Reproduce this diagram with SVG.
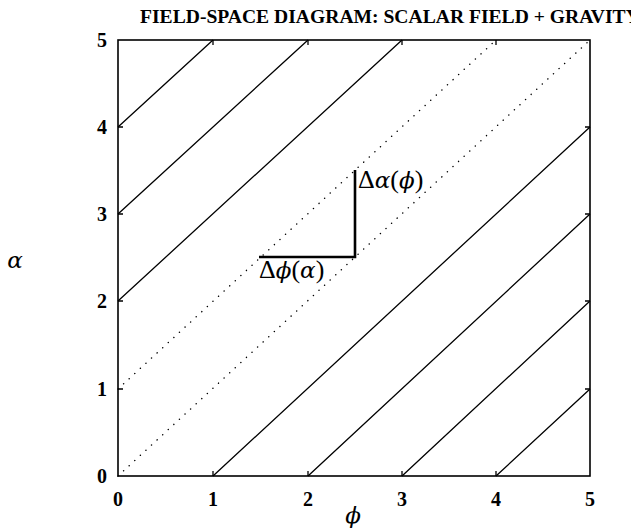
<svg xmlns="http://www.w3.org/2000/svg" width="631" height="531" viewBox="0 0 631 531">
<style>
.t{font-family:"Liberation Serif","DejaVu Serif",serif;font-weight:bold;font-size:20px;fill:#000}
.ttl{font-family:"Liberation Serif","DejaVu Serif",serif;font-weight:bold;font-size:19.6px;fill:#000}
.g{font-family:"DejaVu Serif","Liberation Serif",serif;font-style:italic;font-size:23px;fill:#000}
.d{font-family:"Liberation Serif","DejaVu Serif",serif;font-size:26px;fill:#000}
.s{stroke:#000;stroke-width:1.3;fill:none}
.dot{stroke:#000;stroke-width:1.4;fill:none;stroke-dasharray:0.1 7.5;stroke-linecap:round}
</style>
<rect width="631" height="531" fill="#fff"/>
<text class="ttl" x="140" y="23">FIELD-SPACE DIAGRAM: SCALAR FIELD + GRAVITY</text>
<g id="frame">
<rect x="118" y="40" width="472" height="436" fill="none" stroke="#000" stroke-width="1.6"/>
<path class="s" d="M213,476v-5M308,476v-5M402,476v-5M496,476v-5M213,40v5M308,40v5M402,40v5M496,40v5M118,389h5M118,301h5M118,214h5M118,127h5M590,389h-5M590,301h-5M590,214h-5M590,127h-5"/>
</g>
<g id="ticklabels">
<text class="t" x="118" y="506" text-anchor="middle">0</text>
<text class="t" x="213" y="506" text-anchor="middle">1</text>
<text class="t" x="308" y="506" text-anchor="middle">2</text>
<text class="t" x="402" y="506" text-anchor="middle">3</text>
<text class="t" x="496" y="506" text-anchor="middle">4</text>
<text class="t" x="590" y="506" text-anchor="middle">5</text>
<text class="t" x="107" y="483" text-anchor="end">0</text>
<text class="t" x="107" y="396" text-anchor="end">1</text>
<text class="t" x="107" y="308" text-anchor="end">2</text>
<text class="t" x="107" y="221" text-anchor="end">3</text>
<text class="t" x="107" y="134" text-anchor="end">4</text>
<text class="t" x="107" y="47" text-anchor="end">5</text>
</g>
<text class="g" x="353" y="523" text-anchor="middle">ϕ</text>
<text class="g" x="15" y="268" text-anchor="middle">α</text>
<g id="connectors">
<path class="s" d="M118,127L213,40M118,214L308,40M118,301L402,40M213,476L590,127M308,476L590,214M402,476L590,301M496,476L590,389"/>
<path class="dot" d="M118,476L590,40M118,389L496,40"/>
<path d="M259,257H355V170" fill="none" stroke="#000" stroke-width="2.6"/>
</g>
<text class="d" x="358" y="188">Δ<tspan class="g" font-size="24">α</tspan>(<tspan class="g" font-size="24">ϕ</tspan>)</text>
<text class="d" x="259" y="278">Δ<tspan class="g" font-size="24">ϕ</tspan>(<tspan class="g" font-size="24">α</tspan>)</text>
</svg>
